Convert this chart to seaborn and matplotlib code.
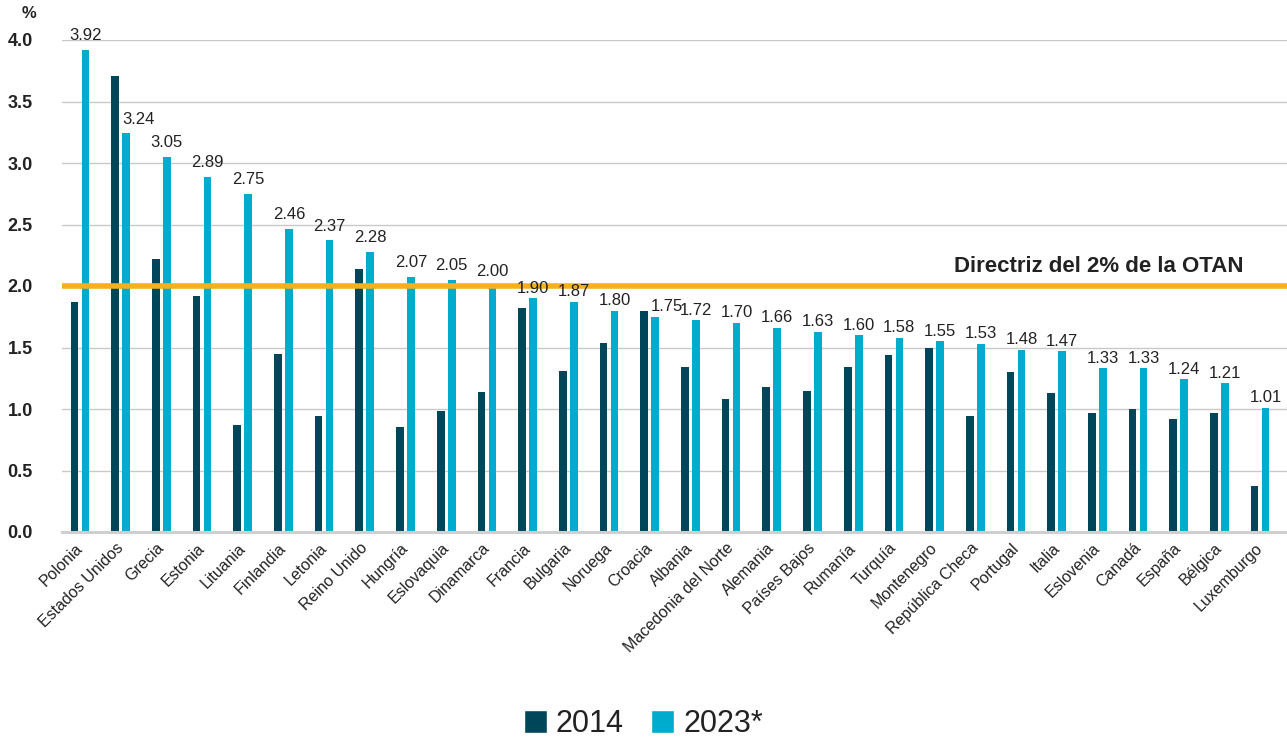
import matplotlib
matplotlib.use("Agg")
import matplotlib.pyplot as plt
import matplotlib.transforms as mtransforms
from matplotlib.patches import Patch
import seaborn as sns
import pandas as pd

countries = ["Polonia", "Estados Unidos", "Grecia", "Estonia", "Lituania", "Finlandia",
             "Letonia", "Reino Unido", "Hungría", "Eslovaquia", "Dinamarca", "Francia",
             "Bulgaria", "Noruega", "Croacia", "Albania", "Macedonia del Norte", "Alemania",
             "Países Bajos", "Rumanía", "Turquía", "Montenegro", "República Checa", "Portugal",
             "Italia", "Eslovenia", "Canadá", "España", "Bélgica", "Luxemburgo"]
v2014 = [1.87, 3.71, 2.22, 1.92, 0.87, 1.45, 0.94, 2.14, 0.85, 0.98, 1.14, 1.82,
         1.31, 1.54, 1.80, 1.34, 1.08, 1.18, 1.15, 1.34, 1.44, 1.50, 0.94, 1.30,
         1.13, 0.97, 1.00, 0.92, 0.97, 0.37]
v2023 = [3.92, 3.24, 3.05, 2.89, 2.75, 2.46, 2.37, 2.28, 2.07, 2.05, 2.00, 1.90,
         1.87, 1.80, 1.75, 1.72, 1.70, 1.66, 1.63, 1.60, 1.58, 1.55, 1.53, 1.48,
         1.47, 1.33, 1.33, 1.24, 1.21, 1.01]
series = ["2014", "2023*"]
yticks = [0.0, 0.5, 1.0, 1.5, 2.0, 2.5, 3.0, 3.5, 4.0]
guideline = 2.0
guideline_label = "Directriz del 2% de la OTAN"

df = pd.DataFrame({
    "país": countries * 2,
    "valor": v2014 + v2023,
    "año": [series[0]] * len(countries) + [series[1]] * len(countries),
})

sns.set_theme(style="white")
plt.rcParams["font.family"] = ["Liberation Sans", "DejaVu Sans"]

DARK = "#00465a"
LIGHT = "#00acce"
ORANGE = "#f7b01a"
TXT = "#222222"

fig = plt.figure(figsize=(12.87, 7.42), dpi=100)
ax = fig.add_axes([62 / 1287, 1 - 532 / 742, 1 - 62 / 1287, (532 - 40) / 742])

sns.barplot(data=df, x="país", y="valor", hue="año", order=countries,
            hue_order=series, palette=[DARK, LIGHT], width=0.54, gap=0.3,
            saturation=1, linewidth=0, ax=ax, legend=False)

ax.set_xlim(-0.44, 29.66)
ax.set_ylim(0, 4.0)
ax.set_yticks(yticks)
ax.set_yticklabels([f"{t:.1f}" for t in yticks], fontsize=13, color=TXT, fontweight="bold")
ax.grid(axis="y", color="#c9c9c9", linewidth=1)
ax.set_axisbelow(True)
for s in ["top", "right", "left"]:
    ax.spines[s].set_visible(False)
ax.spines["bottom"].set_color("#cfcfcf")
ax.spines["bottom"].set_linewidth(2.2)
ax.tick_params(axis="y", length=0, pad=21)
ax.tick_params(axis="x", length=0, pad=6)
ax.set_xlabel("")
ax.set_ylabel("")
ax.set_xticks(range(len(countries)))
ax.set_xticklabels(countries, rotation=45, ha="right", rotation_mode="anchor",
                   fontsize=11.5, color=TXT)
shift = mtransforms.ScaledTranslation(-5 / 100, 0, fig.dpi_scale_trans)
for lbl in ax.get_xticklabels():
    lbl.set_transform(lbl.get_transform() + shift)

# value labels on 2023 bars
for i, (a, v) in enumerate(zip(v2014, v2023)):
    off = 0.081 if v >= guideline else 0.045
    if a > v:
        ax.text(i + 0.03, v + off, f"{v:.2f}", ha="left", va="baseline",
                fontsize=12, color=TXT, clip_on=False, zorder=7)
    else:
        ax.text(i + 0.135, v + off, f"{v:.2f}", ha="center", va="baseline",
                fontsize=12, color=TXT, clip_on=False, zorder=7)

# NATO guideline
ax.axhline(guideline, color=ORANGE, linewidth=4, zorder=5)
ax.text(28.6, guideline + 0.114, guideline_label, ha="right", va="baseline",
        fontsize=16, fontweight="bold", color=TXT, zorder=7)

fig.text(29 / 1287, 1 - 14 / 742, "%", ha="center", va="center", fontsize=12,
         fontweight="bold", color=TXT)

# legend
handles = [Patch(facecolor=DARK), Patch(facecolor=LIGHT)]
fig.legend(handles, series, loc="center", bbox_to_anchor=(0.5, 1 - 724 / 742),
           ncol=2, frameon=False, fontsize=22, handlelength=0.75, handleheight=0.75,
           handletextpad=0.3, columnspacing=0.9, labelcolor=TXT, borderpad=0)

fig.savefig("out.png", dpi=100)
